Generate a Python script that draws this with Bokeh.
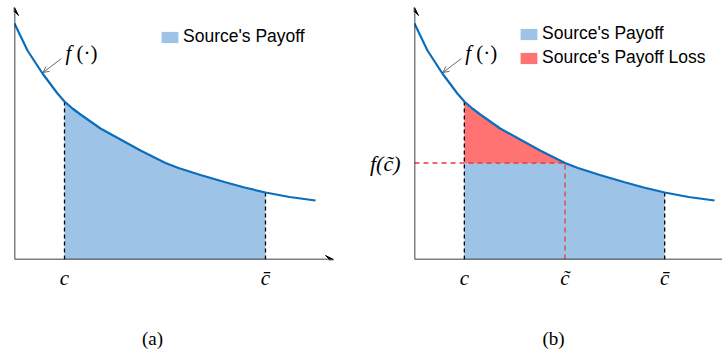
from bokeh.plotting import figure
from bokeh.models import (Range1d, FixedTicker, Arrow, VeeHead, OpenHead, Legend,
                          LegendItem, Label)
from bokeh.layouts import row, column
from bokeh.embed import file_html
from bokeh.resources import INLINE

# ---- data (x: distance from y-axis, y: height of f) ----
curve_x = [0, 13, 28, 43, 50, 58, 66, 86, 106, 126, 146, 151, 164, 186, 210,
           230, 251, 275, 301]
curve_y = [236, 209, 186, 166, 158, 151, 145, 131, 120, 109, 99, 96.5, 91.5,
           84.5, 77.5, 72, 67, 62.5, 59]
c_val = 50
c_tilde = 151
c_bar = 251
tick_labels_a = {50: "c", 251: "c\u0304"}
tick_labels_b = {50: "c", 151: "c\u0303", 251: "c\u0304"}
fct_label = "f(c\u0303)"
legend_a = ["Source's Payoff"]
legend_b = ["Source's Payoff", "Source's Payoff Loss"]
captions = ["(a)", "(b)"]

BLUE_FILL = "#9DC3E6"
RED_FILL = "#FF7373"
CURVE = "#0A6EBD"
RED_DASH = "#F03A3A"
SERIF = "Liberation Serif"
SANS = "Liberation Sans"


def fval(x):
    return curve_y[curve_x.index(x)]


def make_panel(loss, width, border_left, border_right, xmax, legend_x, legend_y):
    p = figure(width=width, height=321, output_backend="svg", toolbar_location=None,
               x_range=Range1d(0, xmax), y_range=Range1d(0, 252),
               min_border_left=border_left, min_border_right=border_right,
               min_border_top=7, min_border_bottom=62,
               y_axis_location="left" if loss else None)
    p.grid.visible = False
    p.outline_line_color = None
    p.background_fill_color = "white"
    p.border_fill_color = "white"

    f_ct = fval(c_tilde)
    xs = [x for x in curve_x if c_val <= x <= c_bar]
    ys = [curve_y[curve_x.index(x)] for x in xs]
    ys_blue = [min(y, f_ct) for y in ys] if loss else ys
    blue = p.varea(x=xs, y1=[0] * len(xs), y2=ys_blue, fill_color=BLUE_FILL)
    items = [LegendItem(label=legend_b[0] if loss else legend_a[0], renderers=[blue])]
    if loss:
        rx = [x for x in curve_x if c_val <= x <= c_tilde]
        ry = [curve_y[curve_x.index(x)] for x in rx]
        red = p.varea(x=rx, y1=[f_ct] * len(rx), y2=ry, fill_color=RED_FILL)
        items.append(LegendItem(label=legend_b[1], renderers=[red]))

    # dashed guides
    p.segment(x0=[c_val, c_bar], y0=[0, 0], x1=[c_val, c_bar],
              y1=[fval(c_val), fval(c_bar)],
              line_color="black", line_width=1.3, line_dash="4 3")
    if loss:
        p.segment(x0=[c_tilde, 0], y0=[0, f_ct], x1=[c_tilde, c_tilde], y1=[f_ct, f_ct],
                  line_color=RED_DASH, line_width=1.3, line_dash="5 4")

    p.line(curve_x, curve_y, line_color=CURVE, line_width=2.2)

    # axis arrows
    p.add_layout(Arrow(end=VeeHead(size=8, fill_color="black", line_color="black"),
                       x_start=0, y_start=0, x_end=0, y_end=252,
                       line_color="black", line_width=1.5))
    p.add_layout(Arrow(end=VeeHead(size=8, fill_color="black", line_color="black"),
                       x_start=0, y_start=0, x_end=xmax if not loss else xmax + 40, y_end=0,
                       line_color="black", line_width=1.5))

    # x tick labels
    ticks = tick_labels_b if loss else tick_labels_a
    ax = p.xaxis[0]
    ax.ticker = FixedTicker(ticks=list(ticks.keys()))
    ax.major_label_overrides = ticks
    ax.axis_line_color = None
    ax.major_tick_line_color = None
    ax.minor_tick_line_color = None
    ax.major_label_standoff = 0
    ax.major_label_text_font = SERIF
    ax.major_label_text_font_style = "italic"
    ax.major_label_text_font_size = "21px"
    ax.major_label_text_color = "black"

    if loss:
        ay = p.yaxis[0]
        ay.ticker = FixedTicker(ticks=[f_ct])
        ay.major_label_overrides = {f_ct: fct_label}
        ay.axis_line_color = None
        ay.major_tick_line_color = None
        ay.minor_tick_line_color = None
        ay.major_label_standoff = 8
        ay.major_label_text_font = SERIF
        ay.major_label_text_font_style = "italic"
        ay.major_label_text_font_size = "22px"
        ay.major_label_text_color = "black"

    # f(.) annotation
    p.add_layout(Label(x=51, y=207, text="f", text_font=SERIF, text_font_style="italic",
                       text_font_size="21px", text_baseline="alphabetic", text_color="black"))
    p.add_layout(Label(x=62, y=207, text="(\u00b7)", text_font=SERIF,
                       text_font_size="21px", text_baseline="alphabetic", text_color="black"))
    p.add_layout(Arrow(end=OpenHead(size=6, line_color="#444444", line_width=0.8),
                       x_start=47, y_start=201, x_end=28.5, y_end=187,
                       line_color="#444444", line_width=0.8))

    legend = Legend(items=items, location=(legend_x, legend_y), padding=0, margin=0,
                    spacing=3, glyph_width=21, glyph_height=14, label_height=14,
                    label_standoff=3, border_line_color=None, background_fill_alpha=0,
                    label_text_font=SANS, label_text_font_size="17.5px",
                    label_text_color="black")
    p.add_layout(legend)
    return p


p1 = make_panel(False, 366, 14, 33, 319, 145, 212)
p2 = make_panel(True, 356, 47, 0, 309, 104, 191)

# caption strip under the two panels
cap = figure(width=722, height=30, output_backend="svg", toolbar_location=None,
             x_range=Range1d(0, 722), y_range=Range1d(0, 30),
             min_border=0, x_axis_location=None, y_axis_location=None)
cap.grid.visible = False
cap.outline_line_color = None
for txt, cx in zip(captions, [152, 553]):
    cap.add_layout(Label(x=cx, y=13, text=txt, text_font=SERIF, text_font_size="19px",
                         text_align="center", text_baseline="middle", text_color="black"))

layout = column(row(p1, p2, spacing=0), cap, spacing=0)

open("out.html", "w").write(file_html(layout, INLINE))
